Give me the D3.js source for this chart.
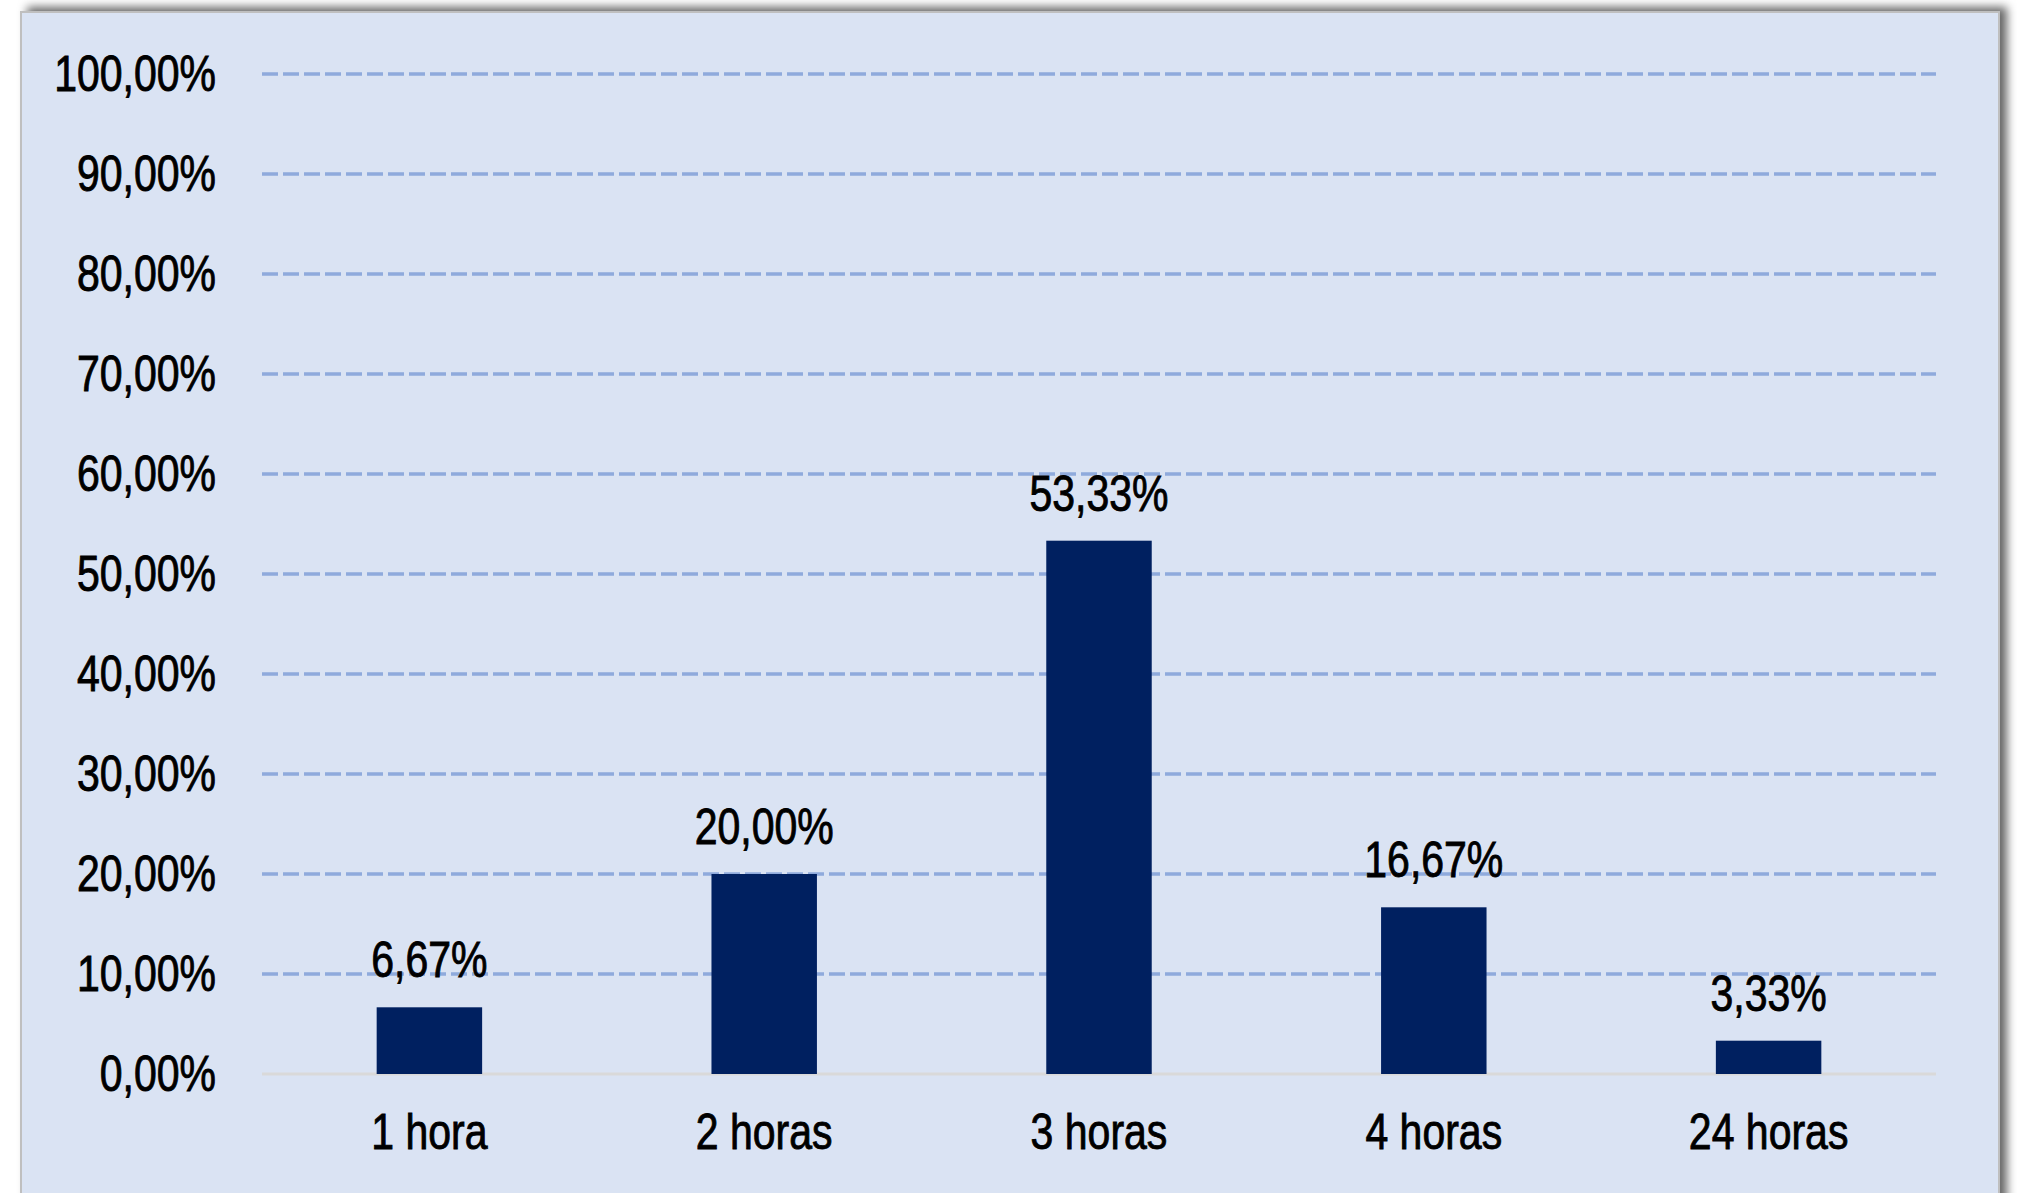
<!DOCTYPE html>
<html>
<head>
<meta charset="utf-8">
<script src="https://cdn.jsdelivr.net/npm/d3@7"></script>
<style>
  html, body { margin: 0; padding: 0; background: #fff; overflow: hidden; }
  svg { display: block; }
  text { font-family: "Liberation Sans", Arial, sans-serif; fill: #000; stroke: #000; stroke-width: 0.9px; }
</style>
</head>
<body>
<svg id="chart"></svg>
<script>
const categories = ["1 hora", "2 horas", "3 horas", "4 horas", "24 horas"];
const values = [6.67, 20.00, 53.33, 16.67, 3.33];
const yTicks = [0, 10, 20, 30, 40, 50, 60, 70, 80, 90, 100];

const width = 2017;
const height = 1193;
const plot = { left: 262, right: 1936, top: 74, bottom: 1074 };
// narrow face: Liberation Sans squeezed sideways, like Arial Narrow
const squeeze = 0.82;
const fontSize = 50;

const svg = d3.select("#chart")
  .attr("width", width)
  .attr("height", height);

svg.append("defs")
  .append("filter")
  .attr("id", "box-shadow")
  .attr("x", "-5%")
  .attr("y", "-5%")
  .attr("width", "110%")
  .attr("height", "110%")
  .append("feDropShadow")
  .attr("dx", 7)
  .attr("dy", -4)
  .attr("stdDeviation", 5)
  .attr("flood-color", "#000")
  .attr("flood-opacity", 0.6);

// chart panel
svg.append("rect")
  .attr("x", 21)
  .attr("y", 12)
  .attr("width", 1978)
  .attr("height", 1220)
  .attr("fill", "#dae3f3")
  .attr("stroke", "#bfbfbf")
  .attr("stroke-width", 2)
  .attr("filter", "url(#box-shadow)");

const x = d3.scaleBand()
  .domain(categories)
  .range([plot.left, plot.right])
  .padding(0);

const y = d3.scaleLinear()
  .domain([0, 100])
  .range([plot.bottom, plot.top]);

const barWidth = x.bandwidth() * 0.315;
const fmt = (v) => v.toFixed(2).replace(".", ",") + "%";

// dashed gridlines
svg.append("g")
  .selectAll("line")
  .data(yTicks.filter((d) => d > 0))
  .join("line")
  .attr("x1", plot.left)
  .attr("x2", plot.right)
  .attr("y1", (d) => y(d))
  .attr("y2", (d) => y(d))
  .attr("stroke", "#8faadc")
  .attr("stroke-width", 3.5)
  .attr("stroke-dasharray", "16,5");

// baseline
svg.append("line")
  .attr("x1", plot.left)
  .attr("x2", plot.right)
  .attr("y1", y(0))
  .attr("y2", y(0))
  .attr("stroke", "#d9d9d9")
  .attr("stroke-width", 3);

// y axis labels
const yAxis = svg.append("g")
  .attr("transform", `translate(${plot.left},0)`)
  .call(d3.axisLeft(y).tickValues(yTicks).tickSize(0).tickPadding(46).tickFormat(fmt));
yAxis.select(".domain").remove();
yAxis.attr("font-family", null).attr("font-size", null);
yAxis.selectAll("text")
  .attr("font-size", fontSize)
  .attr("x", -46 / squeeze)
  .attr("transform", `scale(${squeeze},1)`);

// x axis labels
const xAxis = svg.append("g")
  .attr("transform", `translate(0,${plot.bottom})`)
  .call(d3.axisBottom(x).tickSize(0).tickPadding(40));
xAxis.select(".domain").remove();
xAxis.attr("font-family", null).attr("font-size", null);
xAxis.selectAll("text")
  .attr("font-size", fontSize)
  .attr("transform", `scale(${squeeze},1)`);

// bars
svg.append("g")
  .selectAll("rect")
  .data(values)
  .join("rect")
  .attr("x", (d, i) => x(categories[i]) + (x.bandwidth() - barWidth) / 2)
  .attr("y", (d) => y(d))
  .attr("width", barWidth)
  .attr("height", (d) => y(0) - y(d))
  .attr("fill", "#002060");

// value labels
svg.append("g")
  .selectAll("text")
  .data(values)
  .join("text")
  .attr("transform", (d, i) => `translate(${x(categories[i]) + x.bandwidth() / 2},${y(d) - 30}) scale(${squeeze},1)`)
  .attr("text-anchor", "middle")
  .attr("font-size", fontSize)
  .text(fmt);
</script>
</body>
</html>
